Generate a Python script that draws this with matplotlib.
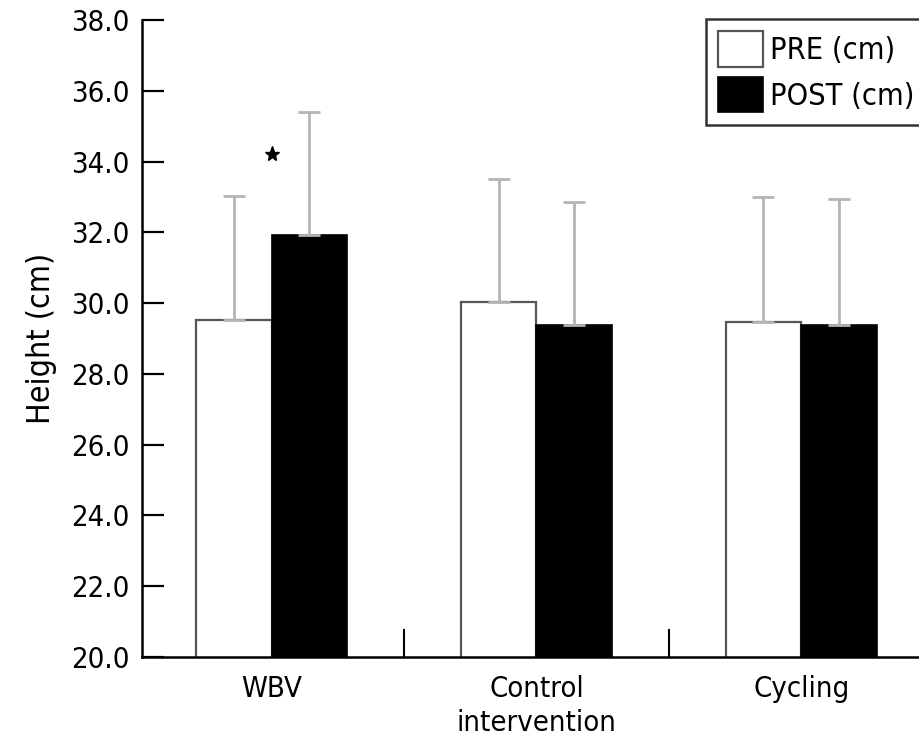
import matplotlib
matplotlib.use("Agg")
import matplotlib.pyplot as plt
import numpy as np

groups = ["WBV", "Control\nintervention", "Cycling"]
pre = [29.52, 30.03, 29.46]
pre_err = [3.50, 3.47, 3.54]
post = [31.92, 29.38, 29.38]
post_err = [3.48, 3.47, 3.56]
sig_group = [0]
sig_y = [34.2]

plt.rcParams['font.family'] = ['DejaVu Sans']
plt.rcParams['font.stretch'] = 'condensed'

fig = plt.figure(figsize=(9.2, 7.37), dpi=100)
ax = fig.add_axes([142/920, 80/737, (960-142)/920, 637/737])

x = np.arange(len(groups))
w = 0.285
err_kw = dict(ecolor='#b4b4b4', elinewidth=2, capsize=8, capthick=2)
ax.bar(x - w/2, pre, w, color='white', edgecolor='#555555', linewidth=1.6,
       yerr=[np.zeros(3), pre_err], error_kw=err_kw, label='PRE (cm)')
ax.bar(x + w/2, post, w, color='black', edgecolor='black', linewidth=1.2,
       yerr=[np.zeros(3), post_err], error_kw=err_kw, label='POST (cm)')
ax.plot(sig_group, sig_y, marker='*', color='black', markersize=11, linestyle='none')

# small separators between groups
for s in [0.5, 1.5]:
    ax.plot([s, s], [20, 20.75], color='black', linewidth=1.5, clip_on=False)

ax.set_xlim(-0.49, 2.6)
ax.set_ylim(20, 38)
ax.set_yticks(np.arange(20, 38.1, 2))
ax.set_yticklabels([f"{v:.1f}" for v in np.arange(20, 38.1, 2)])
ax.set_xticks(x)
ax.set_xticklabels(groups, fontsize=21, linespacing=1.25)
ax.tick_params(axis='x', length=0, pad=13)
ax.tick_params(axis='y', direction='in', length=16, width=1.6, labelsize=21, pad=9)
ax.set_ylabel('Height (cm)', fontsize=23, labelpad=10)
for side in ['top', 'right']:
    ax.spines[side].set_visible(False)
ax.spines['left'].set_linewidth(1.8)
ax.spines['bottom'].set_linewidth(1.8)

leg = fig.legend(loc='upper left', bbox_to_anchor=(706/920, 1 - 19/737), fontsize=22,
                 frameon=True, fancybox=False, edgecolor='black', handlelength=1.45,
                 handleheight=1.4, borderpad=0.4, labelspacing=0.35, handletextpad=0.25,
                 borderaxespad=0)
leg.get_frame().set_linewidth(1.8)

fig.savefig('out.png', dpi=100)
